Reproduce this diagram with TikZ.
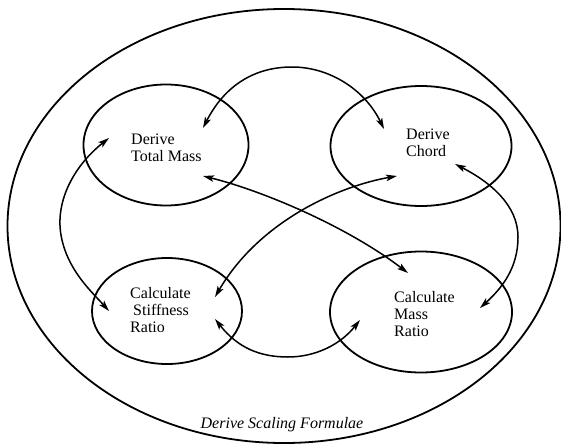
\documentclass[tikz,border=0pt]{standalone}
\usepackage{fontspec}
\setmainfont{Liberation Serif}
\usetikzlibrary{arrows.meta,shapes.geometric}

\begin{document}
\begin{tikzpicture}[x=1pt, y=-1pt, >={Stealth[length=11pt,width=6.5pt,inset=2.5pt]}, line width=1.8pt,
    bubble/.style={ellipse, draw, inner sep=0pt},
    tag/.style={align=left, anchor=west, font=\fontsize{16}{17}\selectfont},
    link/.style={<->, line width=1.5pt}]
    \useasboundingbox (0,0) rectangle (561,444);

    % Outer process
    \node[bubble, minimum width=553pt, minimum height=434pt] (frame) at (284,226) {};
    \node[font=\fontsize{16}{18}\selectfont\itshape] (title) at (282,425) {Derive Scaling Formulae};

    % Sub-processes
    \node[bubble, minimum width=165pt, minimum height=121pt] (mass) at (166,145) {};
    \node[bubble, minimum width=181pt, minimum height=120pt] (chord) at (421,146) {};
    \node[bubble, minimum width=150pt, minimum height=106pt] (stiff) at (167,311) {};
    \node[bubble, minimum width=182pt, minimum height=121pt] (mratio) at (421,312) {};

    % Labels
    \node[tag] (massT) at (127,147.5) {Derive\\Total Mass};
    \node[tag] (chordT) at (402,143) {Derive\\Chord};
    \node[tag] (stiffT) at (126,310.5) {Calculate\\\hspace{3pt}Stiffness\\Ratio};
    \node[tag] (mratioT) at (390,314.5) {Calculate\\Mass\\Ratio};

    % Flows
    \draw[link] ([shift={(37,-17)}]mass.center) .. controls (225,85) and (255,67) .. (292,67)
        .. controls (330,67) and (365,90) .. ([shift={(-37,-17)}]chord.center);
    \draw[link] ([shift={(-57,-7)}]mass.center) .. controls (75,165) and (55,200) .. (61,235)
        .. controls (67,270) and (92,292) .. ([shift={(-58,0)}]stiff.center);
    \draw[link] ([shift={(34,18)}]chord.center) .. controls (490,182) and (518,205) .. (518,237)
        .. controls (518,268) and (502,288) .. ([shift={(59,-4)}]mratio.center);
    \draw[link] ([shift={(48,8)}]stiff.center) .. controls (238,348) and (260,357) .. (288,357)
        .. controls (315,357) and (340,345) .. ([shift={(-61,8)}]mratio.center);
    \draw[link] ([shift={(37,31)}]mass.center) .. controls (260,190) and (345,225) .. ([shift={(-13,-39)}]mratio.center);
    \draw[link] ([shift={(-24,30)}]chord.center) .. controls (340,186) and (260,220) .. ([shift={(48,-14)}]stiff.center);
\end{tikzpicture}
\end{document}
